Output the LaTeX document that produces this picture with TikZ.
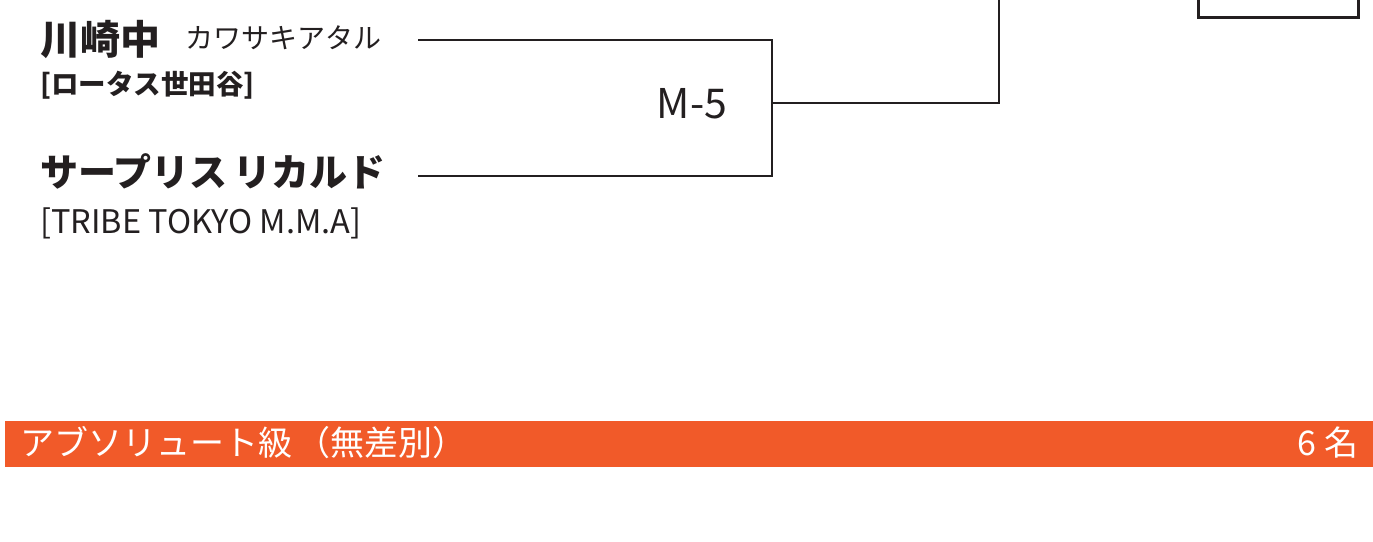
\documentclass[tikz,border=0pt]{standalone}
\usepackage{fontspec}
\setmainfont{Noto Sans CJK JP}
\usepackage{tikz}
\definecolor{bracketgray}{HTML}{231F20}
\definecolor{classorange}{HTML}{F15A29}
\tikzset{
  line/.style={draw=bracketgray, line width=2.8pt},
  fighter/.style={anchor=west, inner sep=0pt, text=bracketgray, font=\fontsize{40}{42}\selectfont\bfseries},
  kana/.style={anchor=west, inner sep=0pt, text=bracketgray, font=\fontsize{28}{30}\selectfont},
  gym/.style={anchor=west, inner sep=0pt, text=bracketgray, font=\fontsize{27}{29}\selectfont},
  bartext/.style={inner sep=0pt, text=white, font=\fontsize{34}{36}\selectfont}
}
\begin{document}
\begin{tikzpicture}[x=1pt, y=-1pt]
	\useasboundingbox (0,0) rectangle (1373,541);
	% fighters
	\node[fighter] (kawasaki) at (40,39) {川崎中};
	\node[kana] (kawasakikana) at (185,38) {カワサキアタル};
	\node[gym, font=\fontsize{27.5}{29}\selectfont\bfseries] (lotus) at (40,85) {[ロータス世田谷]};
	\node[fighter, font=\fontsize{38}{40}\selectfont\bfseries] (suplis) at (40,171) {サープリス\hspace{6pt}リカルド};
	\node[gym, font=\fontsize{32.5}{34}\selectfont] (tribe) at (40,223) {[TRIBE TOKYO M.M.A]};
	
	% bracket M-5
	\coordinate (e1) at (418,40);
	\coordinate (e2) at (418,176);
	\coordinate (m5) at (772,103);
	\coordinate (up) at (999,-5);
	\node[text=bracketgray, font=\fontsize{41}{43}\selectfont, inner sep=0pt] (m5label) at (692,104) {M-5};
	\draw[line] (e1) -| (m5) |- (e2);
	\draw[line] (m5) -| (up);
	
	% next match box (cut off at top)
	\node[line, minimum width=160pt, minimum height=30pt, inner sep=0pt, anchor=south west] (nextbox) at (1197,19) {};
	
	% class bar
	\fill[classorange] (5,421) rectangle (1373,467);
	\node[bartext, anchor=west] (classname) at (20,443) {アブソリュート級\hspace{4pt}（無差別）};
	\node[bartext, anchor=east] (count) at (1359,443) {6\hspace{8pt}名};
\end{tikzpicture}
\end{document}
